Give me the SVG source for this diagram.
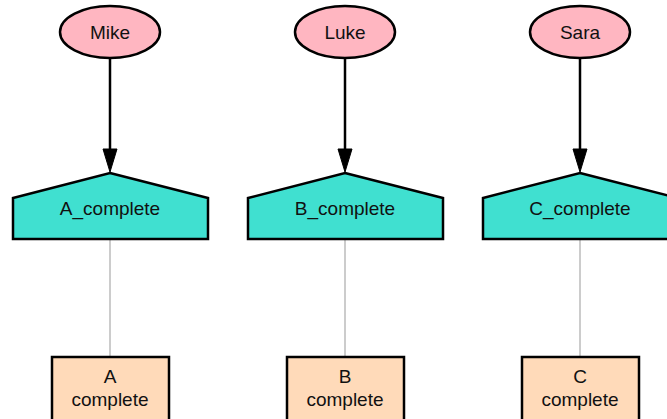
<svg xmlns="http://www.w3.org/2000/svg" width="667" height="419" viewBox="0 0 667 419">
  <style>
    .person { fill: #ffb6c1; stroke: #000; stroke-width: 2.5; }
    .task { fill: #40e0d0; stroke: #000; stroke-width: 2.5; stroke-linejoin: miter; }
    .state { fill: #ffdab9; stroke: #000; stroke-width: 2.5; }
    .label { font-family: "Liberation Sans", Arial, sans-serif; font-size: 19px; fill: #111; text-anchor: middle; }
    .assign { stroke: #000; stroke-width: 2.5; fill: none; }
    .link { stroke: #bbb; stroke-width: 1.5; fill: none; }
    .head { fill: #000; stroke: #000; stroke-width: 1; }
  </style>
  <rect width="667" height="419" fill="#fff"/>

  <g id="connectors">
    <line class="assign" x1="110" y1="58" x2="110" y2="150"/>
    <polygon class="head" points="103,149 117,149 110,172"/>
    <line class="assign" x1="345" y1="58" x2="345" y2="150"/>
    <polygon class="head" points="338,149 352,149 345,172"/>
    <line class="assign" x1="580" y1="58" x2="580" y2="150"/>
    <polygon class="head" points="573,149 587,149 580,172"/>
    <line class="link" x1="110" y1="240" x2="110" y2="357"/>
    <line class="link" x1="345" y1="240" x2="345" y2="357"/>
    <line class="link" x1="580" y1="240" x2="580" y2="357"/>
  </g>

  <g id="mike">
    <ellipse class="person" cx="110" cy="32" rx="50" ry="26"/>
    <text class="label" x="110" y="39">Mike</text>
  </g>
  <g id="luke">
    <ellipse class="person" cx="345" cy="32" rx="50" ry="26"/>
    <text class="label" x="345" y="39">Luke</text>
  </g>
  <g id="sara">
    <ellipse class="person" cx="580" cy="32" rx="50" ry="26"/>
    <text class="label" x="580" y="39">Sara</text>
  </g>

  <g id="a_complete">
    <polygon class="task" points="110,173 208,198 208,239 13,239 13,198"/>
    <text class="label" x="110" y="215">A_complete</text>
  </g>
  <g id="b_complete">
    <polygon class="task" points="345,173 443,198 443,239 248,239 248,198"/>
    <text class="label" x="345" y="215">B_complete</text>
  </g>
  <g id="c_complete">
    <polygon class="task" points="580,173 678,198 678,239 483,239 483,198"/>
    <text class="label" x="580" y="215">C_complete</text>
  </g>

  <g id="a_state">
    <rect class="state" x="52" y="357" width="117" height="70"/>
    <text class="label" x="110" y="383">A</text>
    <text class="label" x="110" y="406">complete</text>
  </g>
  <g id="b_state">
    <rect class="state" x="287" y="357" width="117" height="70"/>
    <text class="label" x="345" y="383">B</text>
    <text class="label" x="345" y="406">complete</text>
  </g>
  <g id="c_state">
    <rect class="state" x="522" y="357" width="117" height="70"/>
    <text class="label" x="580" y="383">C</text>
    <text class="label" x="580" y="406">complete</text>
  </g>
</svg>
